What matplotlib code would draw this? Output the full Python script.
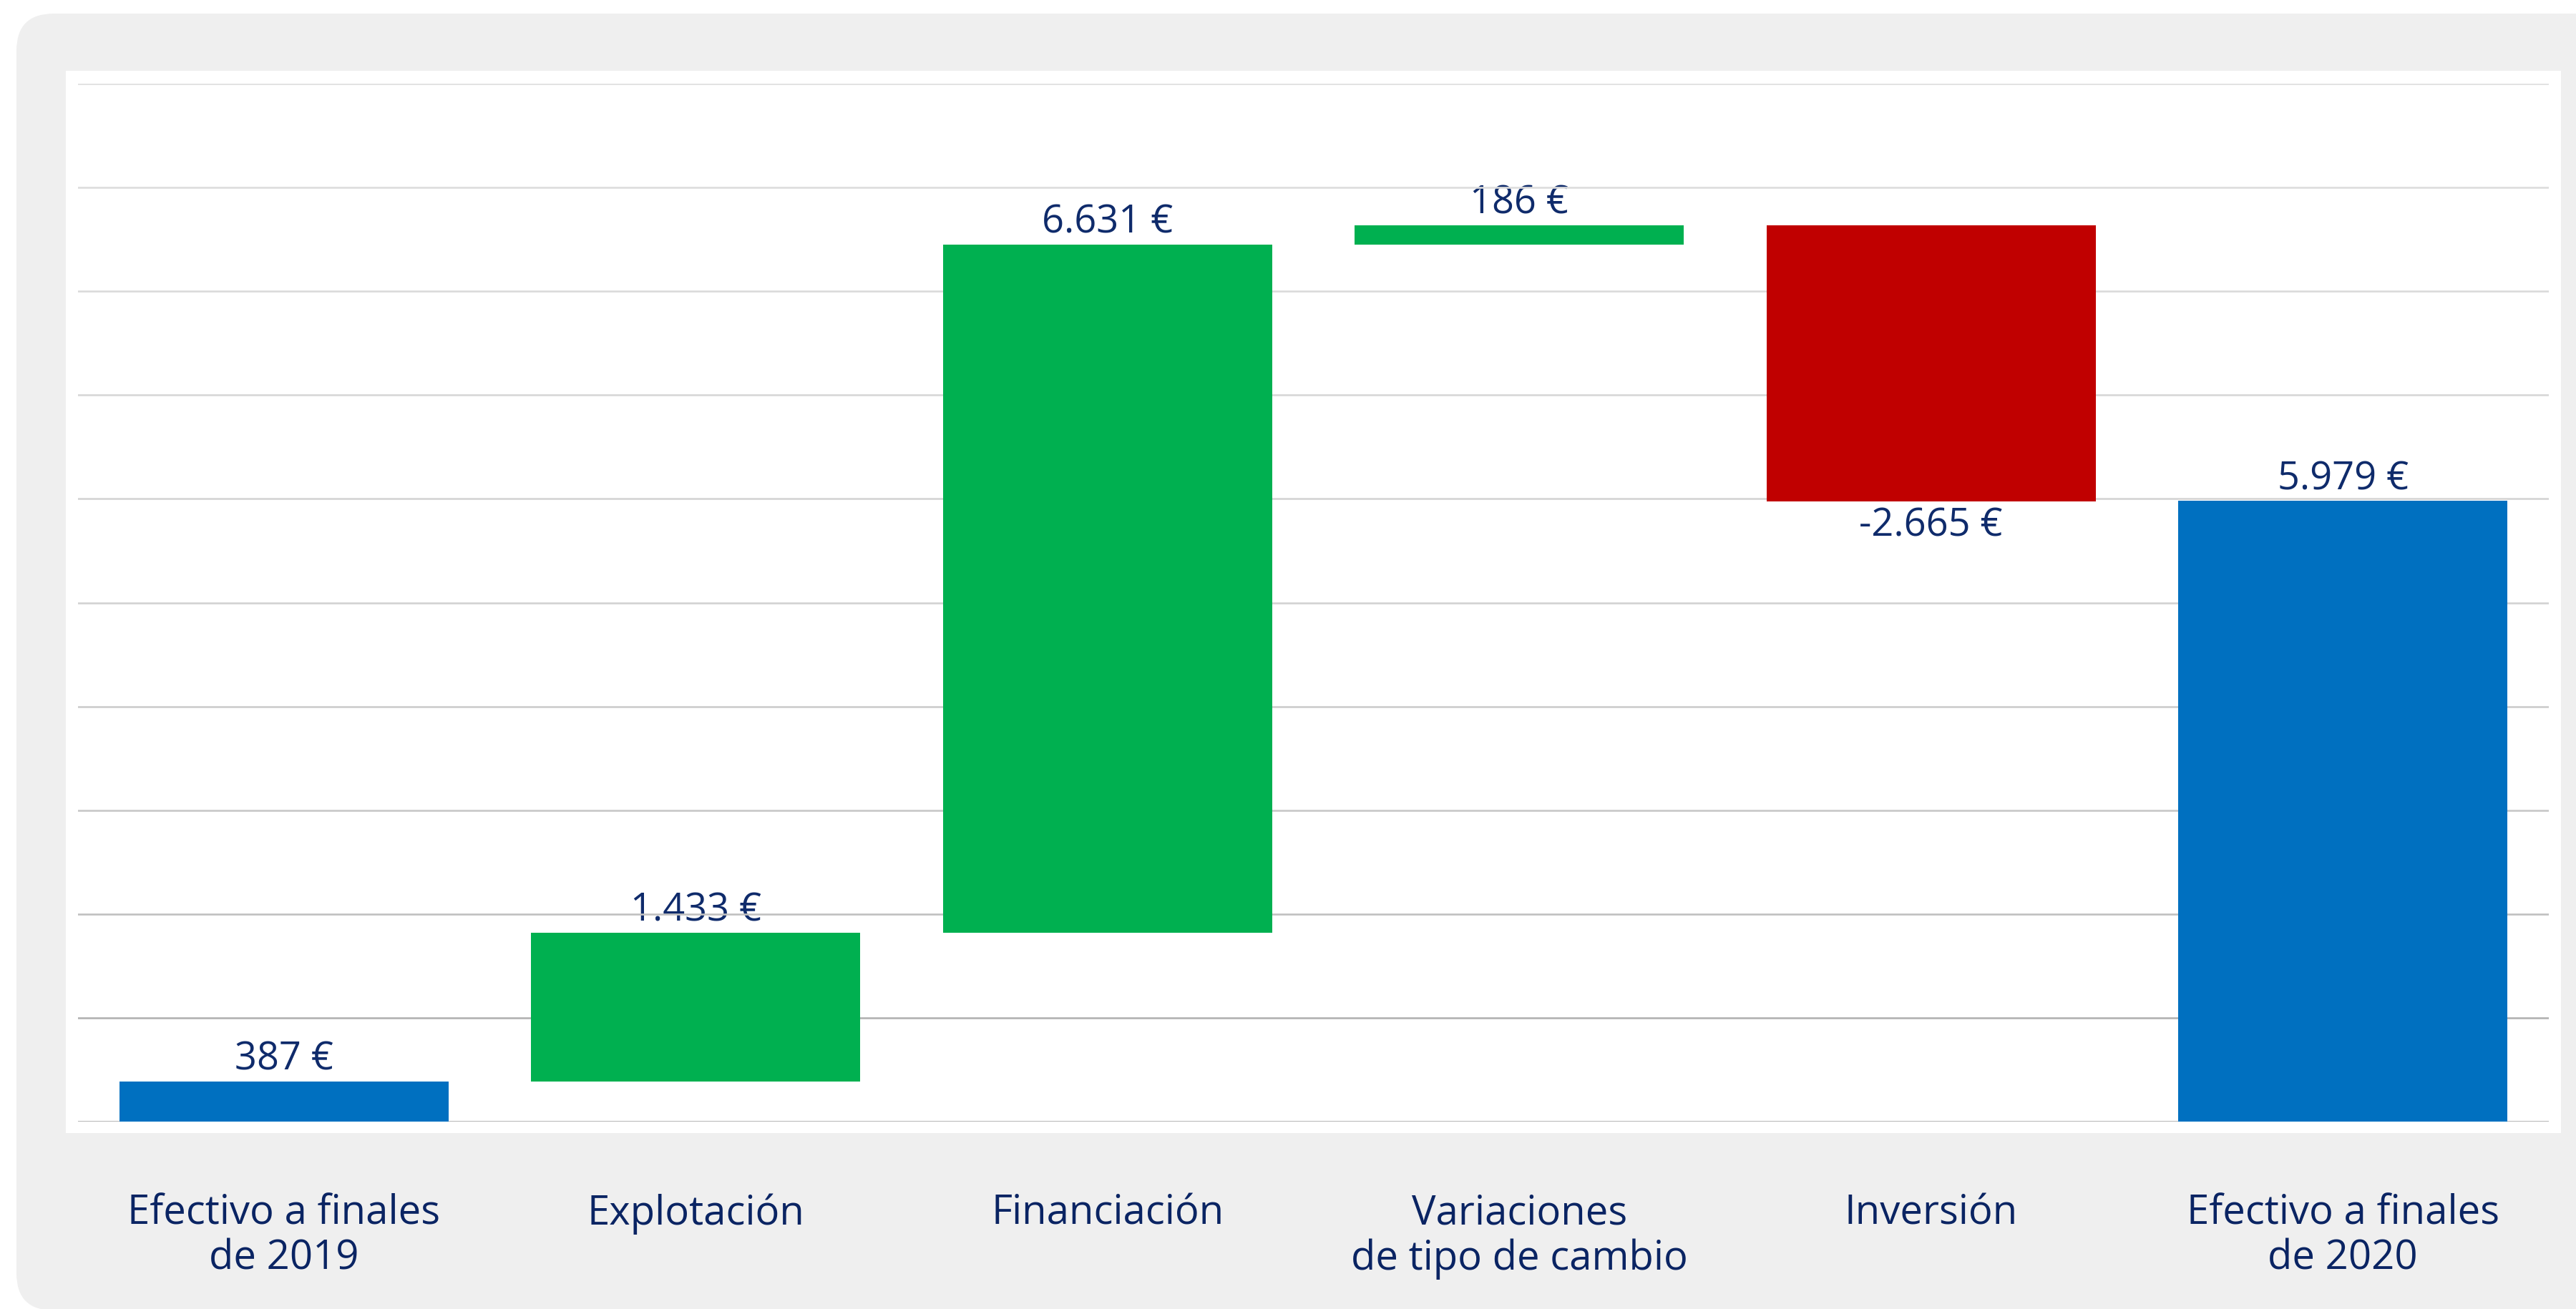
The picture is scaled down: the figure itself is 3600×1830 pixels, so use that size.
import numpy as np
import matplotlib as mpl
import matplotlib.pyplot as plt
from matplotlib.patches import FancyBboxPatch, Rectangle
from matplotlib.transforms import blended_transform_factory, Affine2D

# data
categories = ['Efectivo a finales\nde 2019', 'Explotación', 'Financiación',
              'Variaciones\nde tipo de cambio', 'Inversión',
              'Efectivo a finales\nde 2020']
values = [387, 1433, 6631, 186, -2665, 5979]
kinds = ['total', 'delta', 'delta', 'delta', 'delta', 'total']
labels = ['387 €', '1.433 €', '6.631 €', '186 €', '-2.665 €', '5.979 €']
yticks = [0, 1000, 2000, 3000, 4000, 5000, 6000, 7000, 8000, 9000, 10000]

# colours
c_total = '#0070C0'
c_up = '#00B050'
c_down = '#C00000'
c_text = '#0f2b6b'
c_cat = '#0a2463'
grid_grays = [168, 178, 192, 200, 205, 210, 212, 215, 218, 221, 224]

mpl.rcParams['font.family'] = ['Open Sans', 'DejaVu Sans']

W, H = 3600, 1830
fig = plt.figure(figsize=(W / 100, H / 100), dpi=100)
fig.patch.set_facecolor('white')

# gray rounded card and white plot panel (pixel coords, origin bottom-left)
px = Affine2D().scale(1.0 / W, 1.0 / H) + fig.transFigure
card = FancyBboxPatch((23, -2), 3660, H - 19 + 2,
                      boxstyle='round,pad=0,rounding_size=52',
                      facecolor='#efefef', edgecolor='none', zorder=-2)
card.set_transform(px)
fig.patches.append(card)
panel = Rectangle((92, H - 1584), 3579 - 92, 1584 - 99, transform=px,
                  facecolor='white', edgecolor='none', zorder=-1)
fig.patches.append(panel)

ax = fig.add_axes([109 / W, (H - 1568) / H, (3562 - 109) / W, (1568 - 117) / H])
ax.set_facecolor('none')
ax.set_zorder(1)
for s in ax.spines.values():
    s.set_visible(False)

x = np.arange(len(categories))

# waterfall bottoms
bottoms = []
heights = []
colors = []
run = 0
for v, k in zip(values, kinds):
    if k == 'total':
        bottoms.append(0)
        heights.append(v)
        colors.append(c_total)
        run = v
    else:
        if v >= 0:
            bottoms.append(run)
            colors.append(c_up)
        else:
            bottoms.append(run + v)
            colors.append(c_down)
        heights.append(abs(v))
        run += v

for yt, g in zip(yticks, grid_grays):
    ax.axhline(yt, color='#%02x%02x%02x' % (g, g, g), lw=1.9, zorder=1)

ax.bar(x, heights, bottom=bottoms, width=0.8, color=colors, zorder=2)

for xi, v, b, h, lab in zip(x, values, bottoms, heights, labels):
    if v >= 0:
        ax.annotate(lab, (xi, b + h), xytext=(0, 11.5), textcoords='offset points',
                    ha='center', va='baseline', fontsize=39, color=c_text, zorder=0.5)
    else:
        ax.annotate(lab, (xi, b), xytext=(0, -4), textcoords='offset points',
                    ha='center', va='top', fontsize=39, color=c_text, zorder=0.5)

ax.set_xlim(-0.5, 5.5)
ax.set_ylim(0, 10000)
ax.set_xticks([])
ax.set_yticks([])

tr = blended_transform_factory(ax.transData, fig.transFigure)
for xi, cat in zip(x, categories):
    ax.text(xi, (H - 1668) / H, cat, transform=tr, ha='center', va='top',
            fontsize=40.5, color=c_cat, linespacing=1.16, clip_on=False)

fig.savefig('out.png', dpi=100)
